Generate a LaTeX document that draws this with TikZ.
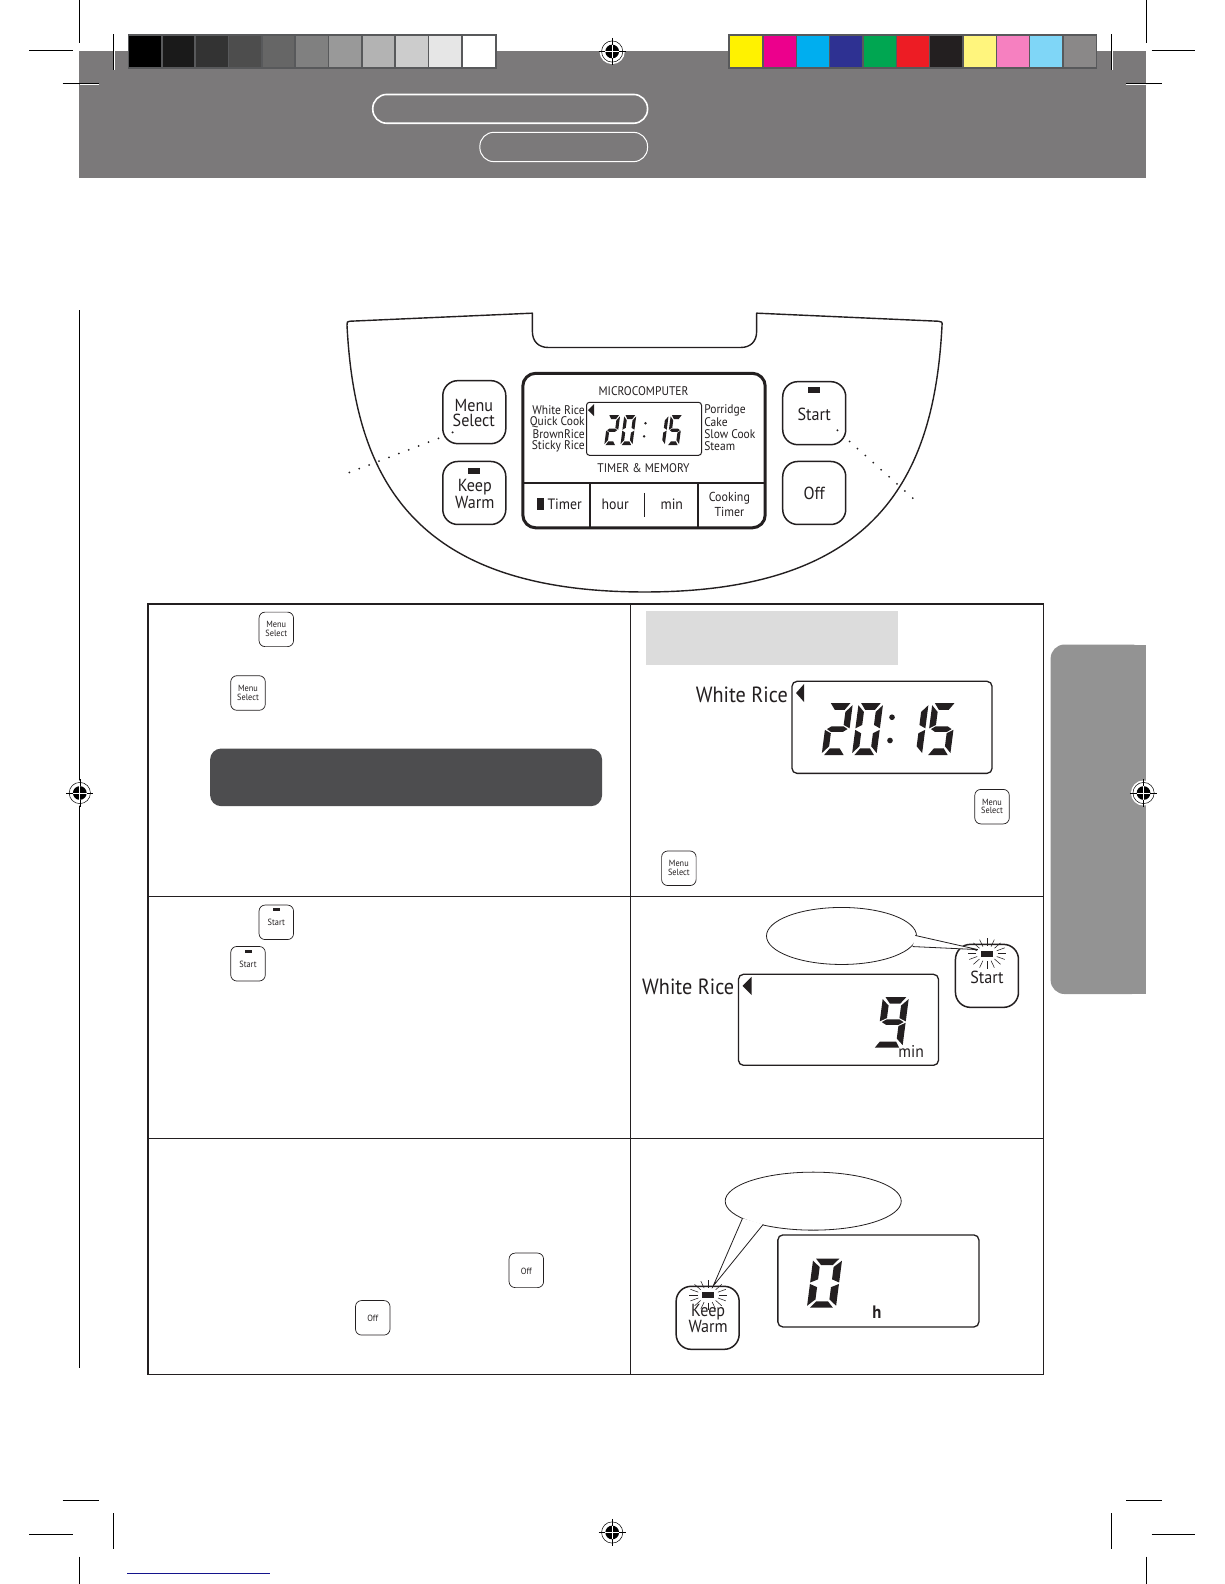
\documentclass[tikz,border=0pt]{standalone}
\usepackage{fontspec}
\setmainfont[FakeStretch=0.92]{PT Sans}
\newcommand\fs[1]{\fontsize{#1}{#1}\selectfont}
\definecolor{hdr}{HTML}{7B797A}
\definecolor{barb}{HTML}{58595B}
\definecolor{ink}{HTML}{231F20}
\def\segA{(1,0)--(9,0)--(7,2.6)--(3,2.6)--cycle}
\def\segB{(10,.8)--(7.4,3.4)--(7.4,8.4)--(10,9.7)--cycle}
\def\segC{(10,10.3)--(7.4,11.6)--(7.4,16.6)--(10,19.2)--cycle}
\def\segD{(1,20)--(9,20)--(7,17.4)--(3,17.4)--cycle}
\def\segE{(0,10.3)--(2.6,11.6)--(2.6,16.6)--(0,19.2)--cycle}
\def\segF{(0,.8)--(2.6,3.4)--(2.6,8.4)--(0,9.7)--cycle}
\def\segG{(.8,10)--(2.6,8.9)--(7.4,8.9)--(9.2,10)--(7.4,11.1)--(2.6,11.1)--cycle}
% x, y, x-unit, y-unit, segment list
\newcommand\segdigit[5]{\begin{scope}[shift={(#1,#2)},x=#3,y=-#4,xslant=0.13]
\foreach \s in {#5}{\fill[ink] \csname seg\s\endcsname;}
\end{scope}}
\newcommand\regmark[2]{\begin{scope}[shift={(#1,#2)}]
\fill[white] (0,0) circle (12.5);
\draw[line width=.5pt] (0,0) circle (10.5);
\fill[black] (0,0) circle (6.8);
\draw[white,line width=.8pt] (-6.8,0)--(6.8,0) (0,-6.8)--(0,6.8);
\draw[line width=.6pt] (-13.5,0)--(-6.8,0) (6.8,0)--(13.5,0) (0,-13.5)--(0,-6.8) (0,6.8)--(0,13.5);
\end{scope}}
\newcommand\rays[2]{\begin{scope}[shift={(#1,#2)}]
\foreach \a in {0,22.5,...,340}{\draw[line width=.55pt,ink] (\a:10.5 and 7.5) -- (\a:19 and 15);}
\end{scope}}
\tikzset{
 crop/.style={line width=.7pt,black},
 bigbtn/.style={draw=ink,line width=1.5pt,rounded corners=15pt,minimum width=63pt,minimum height=63pt,inner sep=0pt,fill=white},
 smallbtn/.style={draw=ink,line width=.7pt,rounded corners=6pt,minimum width=34.5pt,minimum height=34.5pt,inner sep=0pt,fill=white},
 disp/.style={draw=ink,line width=1.3pt,rounded corners=5pt,inner sep=0pt,fill=white},
 txt/.style={inner sep=0pt,text=ink,align=center},
 lab/.style={txt,font=\fs{12.5}},
 smalltxt/.style={txt,font=\fs{9}},
 btntxt/.style={txt,font=\fs{17.5}},
 led/.style={fill=ink,inner sep=0pt,minimum width=12pt,minimum height=6pt},
 sled/.style={fill=ink,inner sep=0pt,minimum width=7pt,minimum height=3pt},
 dots/.style={line width=2pt,line cap=round,dash pattern=on 0pt off 10.6pt,ink},
 bubble/.style={draw=ink,line width=.8pt,fill=white,ellipse},
 grid line/.style={draw=ink,line width=1.2pt}
}
\usetikzlibrary{shapes.geometric}
\begin{document}
\begin{tikzpicture}[x=1.01pt,y=-1.01pt]
\useasboundingbox (0,0) rectangle (1212,1568);
\fill[white] (0,0) rectangle (1212,1568);
% header
\fill[hdr] (78.5,50) rectangle (1134,176);
\draw[white,line width=1.6pt,rounded corners=14pt] (369,93.5) rectangle (641,122);
\draw[white,line width=1pt,rounded corners=14pt] (475,131) rectangle (641,160);
% colour bars
\fill[barb] (126.5,34) rectangle (491.5,68.5);
\fill[barb] (721,34) rectangle (1086,68.5);
\foreach \c [count=\i from 0] in {000000,1A1A1A,333333,4D4D4D,666666,808080,999999,B3B3B3,CCCCCC,E6E6E6,FFFFFF}{
  \definecolor{cc}{HTML}{\c}
  \fill[cc] ({128+33*\i},36) rectangle ({159.5+33*\i},66.5);}
\foreach \c [count=\i from 0] in {FFF200,EC008C,00AEEF,2E3192,00A651,ED1C24,231F20,FFF57D,F680C0,7FD6F7,8A8888}{
  \definecolor{cc}{HTML}{\c}
  \fill[cc] ({723+33*\i},36) rectangle ({754.5+33*\i},66.5);}
% crop marks
\draw[crop] (79,0)--(79,43) (29,50)--(72,50) (62,83)--(98,83) (112,34)--(112,50);
\draw[crop] (1135,0)--(1135,43) (1140,50)--(1183,50) (1115,83)--(1150,83) (1100,34)--(1100,50);
\draw[white,line width=.8pt] (112.8,50)--(112.8,69) (1100.8,50)--(1100.8,69) (79,84)--(98,84) (1115,84)--(1134,84);
\draw[black,line width=.6pt] (112,50)--(112,69) (1100,50)--(1100,69);
\draw[crop] (62,1485)--(98,1485) (29,1519)--(72,1519) (112,1498)--(112,1533) (79,1541)--(79,1568);
\draw[crop] (1115,1485)--(1150,1485) (1140,1519)--(1183,1519) (1100,1498)--(1100,1533) (1135,1541)--(1135,1568);
\draw[line width=.9pt,color={rgb,255:red,20;green,20;blue,140}] (126,1558)--(267,1558);
\draw[line width=1.2pt,black] (79,307)--(79,1354);
% side tab
\fill[color={rgb,255:red,147;green,147;blue,147},rounded corners=14pt] (1134,638)--(1040,638)--(1040,984)--(1134,984)--cycle;
\fill[color={rgb,255:red,147;green,147;blue,147}] (1100,638) rectangle (1134,984);
% registration marks
\regmark{606}{51}\regmark{79}{785}\regmark{1132}{785}\regmark{606}{1517}
% control panel outline
\draw[ink,line width=1.4pt,line join=round] (346,318) -- (527,310) -- (527,328) .. controls (527,338) and (533,344) .. (543,344) -- (733,344) .. controls (743,344) and (749,338) .. (749,328) -- (749,310) -- (929,318) .. controls (932,318) and (933,319) .. (932.5,322)
 .. controls (925,470) and (870,586) .. (638,586) .. controls (406,586) and (351,470) .. (343.5,322) .. controls (343,319) and (344,318) .. (346,318) -- cycle;
% dotted leaders
\coordinate (dl1) at (434,434); \coordinate (dl2) at (345,468);
\coordinate (dr1) at (841,437); \coordinate (dr2) at (908,497);
\draw[dots] (dl1)--(dl2);
\draw[dots] (dr1)--(dr2);
% buttons
\node[bigbtn] (bmenu) at (469.5,408) {};
\node[bigbtn] (bkeep) at (469.5,488) {};
\node[bigbtn] (bstart) at (806,409) {};
\node[bigbtn] (boff) at (806,488) {};
\fill[ink] (448,428) circle (1.1) (829,426) circle (1.1);
\node[btntxt] (tm1) at (469,401) {Menu};
\node[btntxt] (tm2) at (469,416) {Select};
\node[led] (lk) at (469,466.5) {};
\node[btntxt] (tk1) at (470,482) {Keep};
\node[btntxt] (tk2) at (470,497) {Warm};
\node[led] (ls) at (806,386.5) {};
\node[btntxt] (ts) at (806,410) {Start};
\node[btntxt] (to) at (806,488) {Off};
% LCD panel
\draw[ink,line width=3pt,rounded corners=13pt,fill=white] (517.5,369.5) rectangle (757.5,522.5);
\draw[grid line,line width=1.6pt] (518,478)--(757,478);
\draw[grid line] (584,478)--(584,522) (691,478)--(691,522);
\draw[grid line,line width=1.8pt] (638,488)--(638,512);
\node[disp,line width=1pt,rounded corners=3pt,minimum width=115pt,minimum height=53pt] (lcd) at (637.5,424.5) {};
\fill[ink] (582,406) -- (588,400) -- (588,412) -- cycle;
\node[lab] (mc) at (637,387) {MICROCOMPUTER};
\node[lab] (tmem) at (637,463) {TIMER \& MEMORY};
\foreach \t/\y/\n in {White Rice/406/a,Quick Cook/418/b,BrownRice/430/c,Sticky Rice/441.5/d}
  \node[lab,anchor=east] (l\n) at (579,\y) {\t};
\foreach \t/\y/\n in {Porridge/406/a,Cake/418/b,Slow Cook/430/c,Steam/441.5/d}
  \node[lab,anchor=west] (r\n) at (697,\y) {\t};
\fill[ink] (532,493) rectangle (538.5,505);
\node[txt,font=\fs{15}] (tt) at (559,499.5) {Timer};
\node[txt,font=\fs{15}] (th) at (609,499.5) {hour};
\node[txt,font=\fs{15}] (tn) at (665,499.5) {min};
\node[txt,font=\fs{13}] (tc1) at (722,493) {Cooking};
\node[txt,font=\fs{13}] (tc2) at (722,506.5) {Timer};
\segdigit{602}{411}{1.2pt}{1.5pt}{A,B,G,E,D}
\segdigit{618}{411}{1.2pt}{1.5pt}{A,B,C,D,E,F}
\fill[ink] (639,419) circle (1.3) (637.6,432) circle (1.3);
\segdigit{650}{411}{1.2pt}{1.5pt}{B,C}
\segdigit{664}{411}{1.2pt}{1.5pt}{A,F,G,C,D}
% table
\draw[ink,line width=1.7pt] (146.5,598) rectangle (1033,1360.5);
\draw[grid line] (624.5,598)--(624.5,1360) (147,887.5)--(1033,887.5) (147,1127)--(1033,1127);
\fill[color={rgb,255:red,220;green,220;blue,220}] (639,605) rectangle (889,658);
\fill[color={rgb,255:red,77;green,77;blue,79},rounded corners=11pt] (208,741) rectangle (596,798);
% small buttons
\foreach \x/\y/\n in {273.5/623/a,245.5/686/b,982/798.5/c,672/859.5/d}{
  \node[smallbtn] (sm\n) at (\x,\y) {};
  \node[smalltxt] (sm\n m) at (\x,{\y-4.5}) {Menu};
  \node[smalltxt] (sm\n s) at (\x,{\y+4}) {Select};}
\foreach \x/\y/\n in {273.5/913/a,245.5/954/b}{
  \node[smallbtn] (st\n) at (\x,\y) {};
  \node[sled] (st\n l) at (\x,{\y-12.5}) {};
  \node[smalltxt] (st\n t) at (\x,{\y+.5}) {Start};}
\foreach \x/\y/\n in {521/1257.5/a,369/1304.5/b}{
  \node[smallbtn] (of\n) at (\x,\y) {};
  \node[smalltxt] (of\n t) at (\x,{\y+.5}) {Off};}
% step 1 display
\node[disp,minimum width=200pt,minimum height=92pt] (d1) at (883,720) {};
\fill[ink] (788,686) -- (796,677) -- (796,695) -- cycle;
\node[txt,font=\fs{22},anchor=east] (w1) at (780,688) {White Rice};
\segdigit{820}{696}{2.45pt}{2.6pt}{A,B,G,E,D}
\segdigit{850}{696}{2.45pt}{2.6pt}{A,B,C,D,E,F}
\fill[ink] (883,710) circle (2.8) (881,733) circle (2.8);
\segdigit{895}{696}{2.45pt}{2.6pt}{B,C}
\segdigit{923}{696}{2.45pt}{2.6pt}{A,F,G,C,D}
% step 2
\node[disp,minimum width=200pt,minimum height=91pt] (d2) at (830,1009.5) {};
\fill[ink] (735,976) -- (744,967) -- (744,985) -- cycle;
\node[txt,font=\fs{22},anchor=east] (w2) at (727,977) {White Rice};
\segdigit{874}{987}{2.6pt}{2.5pt}{A,B,C,F,G}
\fill[ink] (866,1037) -- (871,1031) -- (887,1031) -- (890,1037) -- cycle;
\node[txt,font=\fs{17}] (mn) at (902,1041) {min};
\node[bigbtn] (bs2) at (977,966) {};
\rays{977}{944}
\node[led] (ls2) at (977,944) {};
\node[btntxt] (ts2) at (977,967) {Start};
\node[bubble,minimum width=150pt,minimum height=57pt] (e2) at (833,926.5) {};
\coordinate (t2a) at (906,926); \coordinate (t2b) at (968,940); \coordinate (t2c) at (903.5,937);
\fill[white] (t2a)--(t2b)--(t2c)--cycle;
\draw[ink,line width=.8pt] (t2a)--(t2b)--(t2c);
% step 3
\node[disp,minimum width=201pt,minimum height=92pt] (d3) at (869.5,1268) {};
\segdigit{805}{1246}{2.9pt}{2.45pt}{A,B,C,D,E,F}
\node[txt,font=\bfseries\fs{18}] (hh) at (868,1299) {h};
\node[bigbtn] (bk3) at (700.5,1304.5) {};
\rays{701}{1282}
\node[led] (lk3) at (701,1282) {};
\node[btntxt] (tk3) at (701,1298.5) {Keep};
\node[btntxt] (tw3) at (701,1313) {Warm};
\node[bubble,minimum width=176pt,minimum height=58pt] (e3) at (805,1189) {};
\coordinate (t3a) at (735,1206); \coordinate (t3b) at (706,1273); \coordinate (t3c) at (755.5,1212);
\fill[white] (t3a)--(t3b)--(t3c)--cycle;
\draw[ink,line width=.8pt] (t3a)--(t3b)--(t3c);
\end{tikzpicture}
\end{document}
